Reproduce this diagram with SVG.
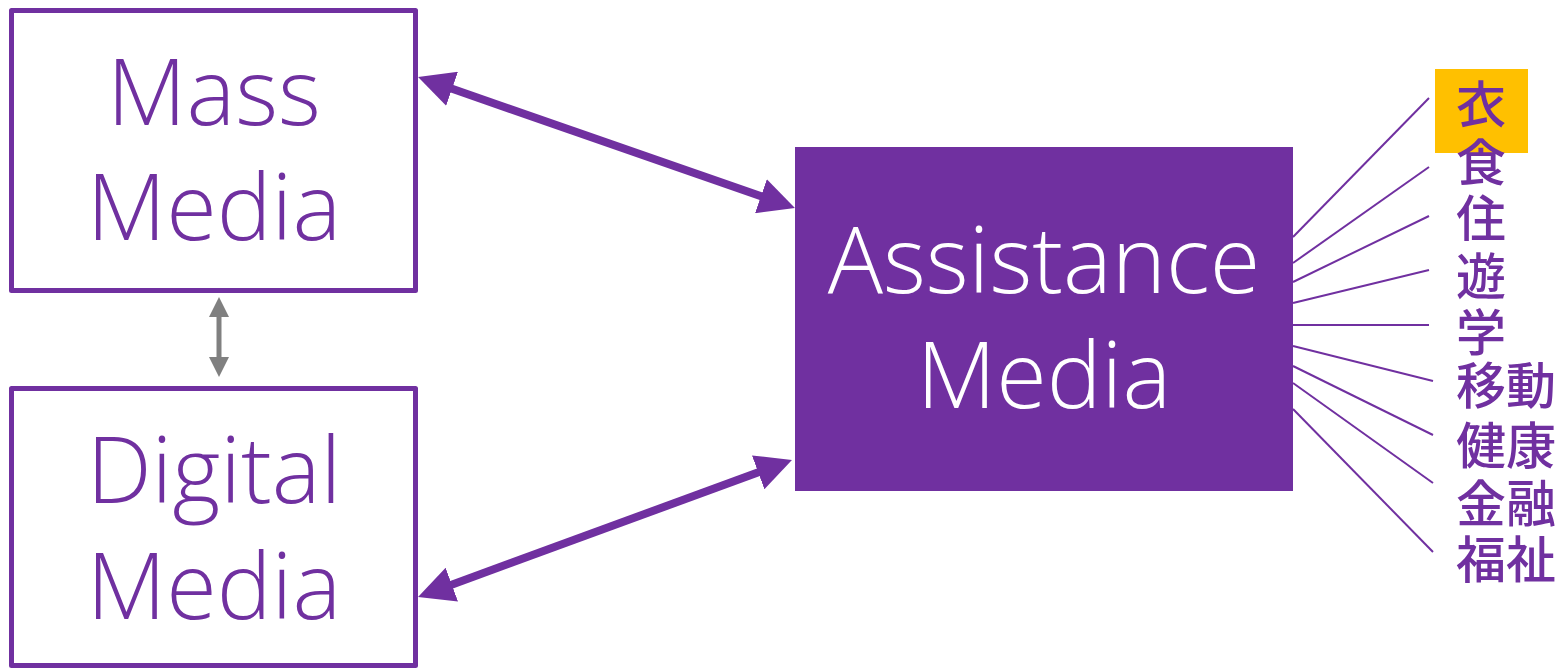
<svg xmlns="http://www.w3.org/2000/svg" width="1562" height="668" viewBox="0 0 1562 668">
<style>
.box{fill:#FFFFFF;stroke:#7030A0;stroke-width:5;stroke-linejoin:round}
.lbl{font-family:"Open Sans","Liberation Sans",sans-serif;font-weight:300;font-size:92px;text-anchor:middle;fill:#7030A0}
.wl{fill:#FFFFFF}
.big{stroke:#7030A0;stroke-width:8;fill:none;marker-start:url(#ah);marker-end:url(#ah)}
.fan{stroke:#7030A0;stroke-width:2;fill:none}
.cjk{font-family:"Noto Sans CJK JP","Noto Sans CJK SC",sans-serif;font-size:50px;font-weight:500;fill:#7030A0}
</style>
<defs>
<marker id="ah" markerUnits="userSpaceOnUse" markerWidth="36" markerHeight="36" refX="6" refY="18" orient="auto-start-reverse" viewBox="0 0 36 36">
<path d="M0,0 L36,18 L0,36 z" fill="#7030A0"/>
</marker>
<marker id="gh" markerUnits="userSpaceOnUse" markerWidth="20" markerHeight="20" refX="3" refY="10" orient="auto-start-reverse" viewBox="0 0 20 20">
<path d="M0,0 L20,10 L0,20 z" fill="#808080"/>
</marker>
</defs>
<g id="mass-media">
<rect class="box" x="11.5" y="10.5" width="404" height="280"/>
<text class="lbl" x="214" y="125">Mass</text>
<text class="lbl" x="214" y="240">Media</text>
</g>
<g id="digital-media">
<rect class="box" x="11.5" y="388.5" width="404" height="277"/>
<text class="lbl" x="214" y="503">Digital</text>
<text class="lbl" x="214" y="619">Media</text>
</g>
<g id="assistance-media">
<rect x="795" y="147" width="498" height="344" fill="#7030A0"/>
<text class="lbl wl" x="1044" y="293">Assistance</text>
<text class="lbl wl" x="1044" y="408">Media</text>
</g>
<g id="domains">
<rect x="1435" y="69" width="93" height="84" fill="#FFC000"/>
<text class="cjk" x="1456" y="123">衣</text>
<text class="cjk" x="1456" y="181">食</text>
<text class="cjk" x="1456" y="237">住</text>
<text class="cjk" x="1456" y="295">遊</text>
<text class="cjk" x="1456" y="351">学</text>
<text class="cjk" x="1456" y="404">移動</text>
<text class="cjk" x="1456" y="464">健康</text>
<text class="cjk" x="1456" y="522">金融</text>
<text class="cjk" x="1456" y="578">福祉</text>
</g>
<g id="connectors">
<line class="big" x1="446.4" y1="86.8" x2="766.6" y2="198.2"/>
<line class="big" x1="446.2" y1="586.7" x2="763.8" y2="470.3"/>
<line x1="219" y1="314" x2="219" y2="360" stroke="#808080" stroke-width="5" marker-start="url(#gh)" marker-end="url(#gh)"/>
<line class="fan" x1="1293" y1="237" x2="1429" y2="98"/>
<line class="fan" x1="1293" y1="263" x2="1429" y2="167"/>
<line class="fan" x1="1293" y1="282" x2="1429" y2="216"/>
<line class="fan" x1="1293" y1="303" x2="1429" y2="270"/>
<line class="fan" x1="1293" y1="325" x2="1429" y2="325"/>
<line class="fan" x1="1293" y1="346" x2="1433" y2="381"/>
<line class="fan" x1="1293" y1="366" x2="1433" y2="435"/>
<line class="fan" x1="1293" y1="383" x2="1433" y2="483"/>
<line class="fan" x1="1293" y1="409" x2="1433" y2="552"/>
</g>
</svg>
